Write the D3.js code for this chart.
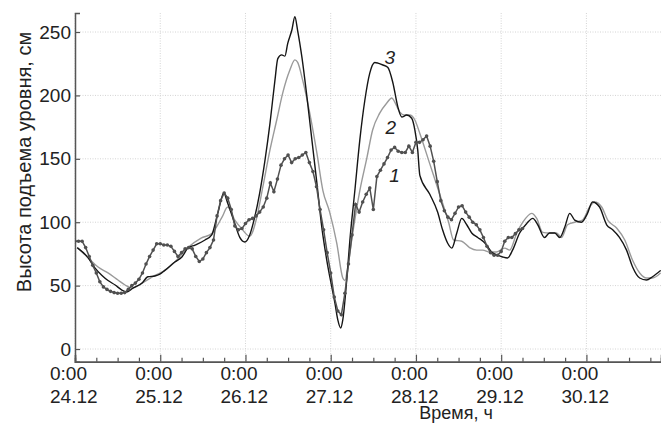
<!DOCTYPE html>
<html>
<head>
<meta charset="utf-8">
<script src="https://cdn.jsdelivr.net/npm/d3@7"></script>
<style>
  body { margin: 0; background: #fff; }
  svg { display: block; font-family: "Liberation Sans", Arial, sans-serif; }
</style>
</head>
<body>
<svg width="661" height="426"></svg>
<script>
// day ticks (hours from 24.12 0:00)
const dayHours = [0, 24, 48, 72, 96, 120, 144]
const dayLabels = ["24.12", "25.12", "26.12", "27.12", "28.12", "29.12", "30.12"]
const yTicks = [0, 50, 100, 150, 200, 250]

// 1 - observed, hourly readings from 0:00 24.12
const obsValues = [85,85,85,80,73,66,60,53,49,47,45.5,44.5,44,44,44.5,47,50,52,55,60,67,73,78,83,
  83,82,82,81,77,73,76,79,80,79,73,69,71,76,80,86,105,117,123,119,110,97,94,95,
  99,102,103,105,108,112,119,131,124,134,145,150,153,147,150,151,153,155,147,140,128,110,94,76,
  60,41,30,27,44,67,90,114,108,116,122,127,110,136,141,146,151,157,159,156,155,155,160,155,
  163,163,165,168,160,148,132,117,109,104,102,107,112,113,108,104,100,98,94,88,81,76,74,74,
  77,85,88,88,91,94,95]

// 2 - model (grey)
const mod2Hours = [0.8,3.7,6.5,9.3,12.1,14.1,16,18.9,22.5,25.3,28.1,31.8,35.5,38.5,41.4,43,45,46.9,49.2,51.2,
  52.9,54.9,56.8,58.5,60.5,61.9,62.7,64.1,66.1,68.1,69.8,71.7,73.7,75.4,76,76.8,78.2,80.2,82.2,83.8,
  85.8,87.8,89.2,90,91.4,92.8,94.2,95.7,97.1,99.9,102.7,105.2,106.6,108.9,111.1,113.1,114.8,116.8,118.7,121,
  122.4,124.4,126.1,128.6,130,131.7,133.6,135.6,137,138.7,140.7,142.9,144.9,146.3,148.3,150,152.5,154.8,157,159,
  160.9,162.6,164.9]
const mod2Values = [79.6,72,64.7,60,54.4,50.5,48,52,58,62,68.6,80,87.5,91,104,112,101.7,95,89,104,
  128,157,180.6,202,220,228,226,212,186,154.6,125,108,83.6,56,54,64.7,91.5,125,151,172.7,
  186,194,198,195,187,184.5,184.5,180.6,170,146,122,100,86,85,80,78,78,76.5,76.5,79.6,
  78,91.5,100,107,103,92,91.5,91.5,88,98,100,101.7,112,116,112,101.7,95.4,86,70,60,
  56,56,60]

// 3 - model (black)
const mod3Hours = [0.6,3.7,5.6,7.6,9.3,11.3,13.2,14.6,16.3,18.9,20.5,22.5,23.9,25.3,28.1,30.1,31.8,33.8,36.6,38.5,
  40.2,41.9,43,45,46.4,47.8,49.2,50.6,52,53.5,54.9,56.3,57.1,58.2,59.1,59.9,61.1,61.9,62.7,63.9,
  65.3,66.7,68.1,69.5,70.9,72.3,73.2,74,74.8,75.4,76.5,77.4,78.8,80.2,81.6,83,84.4,85.3,86.7,88.1,
  89.5,90.9,92,93.4,94.8,95.7,96.5,97.1,99.9,102.1,103.5,104.9,106.1,107.5,108.9,110.3,111.7,113.4,115.4,117.3,
  119,120.4,121.8,123.2,125.2,127.2,128.9,130.3,132.2,133.6,135.1,136.5,137.9,139.3,140.7,142.6,144.3,145.7,147.7,149.7,
  151.4,153.3,155.3,157,159,160.9,162.6,164.9]
const mod3Values = [80,72,64,58,54,50.5,46.5,45,48,52,57,57.6,59,62,68.6,72.6,79.6,82,86,90,
  107,123,115,99,88,84.4,90,104,123,149,178,212,229,232,231,241,252,262,251,230,
  199,165,131,96,70,49,36,23,16.6,23,54,86,125,165,196,217.6,226,225.5,224,222,
  210,191,183,184.5,182,172.7,157,137,122,108,94,83.6,79.6,91.5,103,98,91.5,88,83.6,76.5,
  74,72.6,71.8,78,91.5,99,103,98,88,91.5,91.5,88,96,107,101.7,100,107,116,112,98,
  94,88,78,64.7,56,54.4,57,62]

const seriesLabels = [
  { text: "3", h: 88.6, v: 230 },
  { text: "2", h: 88.9, v: 175 },
  { text: "1", h: 90, v: 137 }
]

const svg = d3.select("svg")
const x = d3.scaleLinear().domain([0, 165]).range([75, 661])
const y = d3.scaleLinear().domain([-10, 265]).range([361.7, 13])

// grid
svg.append("g").selectAll("line").data(dayHours).enter().append("line")
  .attr("x1", d => x(d)).attr("x2", d => x(d)).attr("y1", 13).attr("y2", 361)
  .attr("stroke", "#d4d4d4").attr("stroke-dasharray", "1,1.5")
svg.append("g").selectAll("line").data(yTicks).enter().append("line")
  .attr("x1", 75).attr("x2", 661).attr("y1", d => y(d)).attr("y2", d => y(d))
  .attr("stroke", "#d4d4d4").attr("stroke-dasharray", "1,1.5")

// axes
const minor = d3.range(0, 166, 6).filter(h => h % 24 !== 0)
const xAxis = svg.append("g").attr("transform", "translate(0," + y(-10) + ")")
  .call(d3.axisBottom(x).tickValues(minor).tickSize(-4).tickFormat(""))
xAxis.append("g").call(d3.axisBottom(x).tickValues(dayHours).tickSize(-7).tickFormat(""))
xAxis.selectAll("path").attr("stroke", "#555").attr("stroke-width", 1.5)
xAxis.selectAll("line").attr("stroke", "#555").attr("stroke-width", 1.2)

const yAxis = svg.append("g").attr("transform", "translate(75,0)")
  .call(d3.axisLeft(y).tickValues(yTicks).tickSize(-5).tickPadding(4))
yAxis.select(".domain").attr("stroke", "#555").attr("stroke-width", 1.5)
yAxis.selectAll("line").attr("stroke", "#555").attr("stroke-width", 1.2)
yAxis.selectAll("text").attr("font-size", 19).attr("fill", "#222")
  .attr("font-family", "Liberation Sans, Arial, sans-serif")

// x tick labels, two lines
const xl = svg.append("g").selectAll("text").data(dayHours).enter().append("text")
  .attr("font-size", 19).attr("fill", "#222")
xl.append("tspan").attr("x", d => x(d) - 25).attr("y", 380).text("0:00")
xl.append("tspan").attr("x", d => x(d) - 25).attr("y", 403).text((d, i) => dayLabels[i])

svg.append("text").attr("x", 456).attr("y", 419).attr("text-anchor", "middle")
  .attr("font-size", 18).attr("fill", "#222").text("Время, ч")
svg.append("text").attr("transform", "translate(31,162) rotate(-90)").attr("text-anchor", "middle")
  .attr("font-size", 20).attr("fill", "#222").text("Высота подъема уровня, см")

// lines
svg.append("clipPath").attr("id", "c").append("rect")
  .attr("x", 75).attr("y", 0).attr("width", 586).attr("height", 362)
const plot = svg.append("g").attr("clip-path", "url(#c)")

const line = d3.line().x(d => x(d[0])).y(d => y(d[1])).curve(d3.curveMonotoneX)
plot.append("path").datum(mod2Hours.map((h, i) => [h, mod2Values[i]]))
  .attr("d", line).attr("fill", "none").attr("stroke", "#9a9a9a").attr("stroke-width", 1.4)
plot.append("path").datum(mod3Hours.map((h, i) => [h, mod3Values[i]]))
  .attr("d", line).attr("fill", "none").attr("stroke", "#151515").attr("stroke-width", 1.4)

const obs = obsValues.map((v, i) => [i, v])
plot.append("path").datum(obs)
  .attr("d", d3.line().x(d => x(d[0])).y(d => y(d[1])))
  .attr("fill", "none").attr("stroke", "#505050").attr("stroke-width", 1.5)
plot.append("g").selectAll("circle").data(obs).enter().append("circle")
  .attr("cx", d => x(d[0])).attr("cy", d => y(d[1])).attr("r", 1.8).attr("fill", "#505050")

svg.append("g").selectAll("text").data(seriesLabels).enter().append("text")
  .attr("x", d => x(d.h)).attr("y", d => y(d.v)).attr("dy", "0.35em")
  .attr("text-anchor", "middle").attr("font-size", 19).attr("font-style", "italic")
  .attr("fill", "#222").text(d => d.text)
</script>
</body>
</html>
